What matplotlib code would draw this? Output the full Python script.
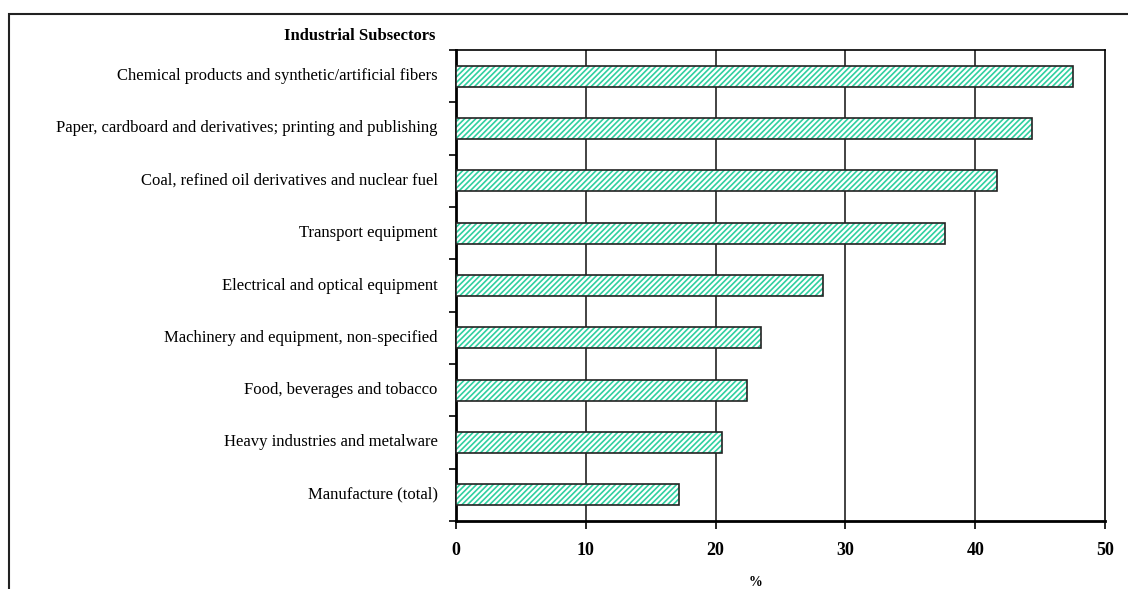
import matplotlib
matplotlib.use("Agg")
import matplotlib.pyplot as plt
from matplotlib.patches import Rectangle

plt.rcParams["font.family"] = ["Liberation Serif", "DejaVu Serif"]
plt.rcParams["hatch.linewidth"] = 1.2

subsectors = [
    "Chemical products and synthetic/artificial fibers",
    "Paper, cardboard and derivatives; printing and publishing",
    "Coal, refined oil derivatives and nuclear fuel",
    "Transport equipment",
    "Electrical and optical equipment",
    "Machinery and equipment, non-specified",
    "Food, beverages and tobacco",
    "Heavy industries and metalware",
    "Manufacture (total)",
]
share = [47.5, 44.4, 41.7, 37.7, 28.3, 23.5, 22.4, 20.5, 17.2]
xticks = [0, 10, 20, 30, 40, 50]

W, H = 1128, 589
fig = plt.figure(figsize=(W / 100, H / 100), dpi=100)
ax = fig.add_axes([456 / W, 1 - 521 / H, (1105 - 456) / W, (521 - 50) / H])

# outer chart frame (runs off right and bottom edges)
fig.patches.append(Rectangle((9 / W, -0.1), 1.2, 1.1 - 14.5 / H, transform=fig.transFigure,
                             fill=False, edgecolor="#222222", linewidth=1.5))

n = len(subsectors)
ypos = list(range(n))[::-1]
ax.barh(ypos, share, height=0.4, color="white", edgecolor="#2fd0a0",
        hatch="//////", linewidth=0, zorder=3)
ax.barh(ypos, share, height=0.4, fill=False, edgecolor="#222222",
        linewidth=1.2, zorder=4)

ax.set_xlim(0, 50)
ax.set_ylim(-0.5, n - 0.5)
ax.set_xticks(xticks)
ax.set_xticklabels([str(t) for t in xticks], fontsize=13, fontweight="bold")
ax.tick_params(axis="x", direction="out", length=6, width=1.2, pad=9)

ax.set_yticks([i + 0.5 for i in range(-1, n)])
ax.set_yticklabels([])
ax.tick_params(axis="y", direction="out", length=5, width=1.2)
for y, lab in zip(ypos, subsectors):
    ax.text(-0.028, y, lab, transform=ax.get_yaxis_transform(), ha="right",
            va="center", fontsize=12)

for t in xticks[1:-1]:
    ax.axvline(t, color="#222222", linewidth=1.2, zorder=1)

for s in ["left", "bottom"]:
    ax.spines[s].set_linewidth(2)
for s in ["top", "right"]:
    ax.spines[s].set_linewidth(1.2)

fig.text(435 / W, 1 - 36 / H, "Industrial Subsectors", ha="right", va="center",
         fontsize=12, fontweight="bold")
fig.text(755 / W, 1 - 583 / H, "%", ha="center", va="center",
         fontsize=10, fontweight="bold")

fig.savefig("out.png", dpi=100)
